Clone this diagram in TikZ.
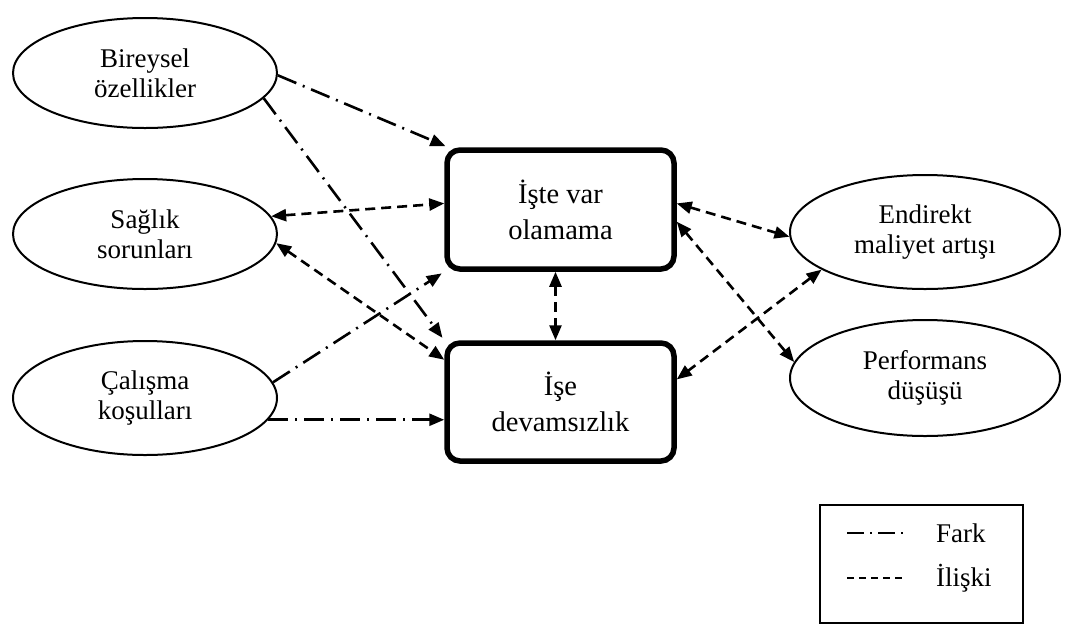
\documentclass[tikz,border=0pt]{standalone}
\usepackage{fontspec}
\setmainfont{Liberation Serif}
\usetikzlibrary{arrows.meta,shapes.geometric}

\begin{document}
\begin{tikzpicture}[x=1pt,y=-1pt,
  oval/.style={ellipse,draw,line width=2pt,minimum width=264pt,minimum height=110pt,
    inner sep=0pt,align=center,font=\fontsize{27}{30}\selectfont},
  core/.style={rectangle,rounded corners=13pt,draw,line width=5.5pt,minimum width=227pt,
    minimum height=119pt,align=center,font=\fontsize{28.5}{36}\selectfont},
  tip/.style={-{Triangle[length=15pt,width=12pt]}},
  both/.style={{Triangle[length=15pt,width=12pt]}-{Triangle[length=15pt,width=12pt]}},
  fark/.style={line width=2.6pt,dash pattern=on 20pt off 7pt on 2pt off 7pt},
  iliski/.style={line width=2.6pt,dash pattern=on 10pt off 6pt},
  legtext/.style={anchor=west,inner sep=0pt,font=\fontsize{27}{30}\selectfont},
]
\useasboundingbox (0,0) rectangle (1069,625);

% causes on the left
\node[oval] (bir) at (145,73) {Bireysel\\özellikler};
\node[oval] (sag) at (145,234) {Sağlık\\sorunları};
\node[oval,minimum height=114pt] (cal) at (145,398) {Çalışma\\koşulları};

% central outcomes
\node[core] (var) at (560.5,209.5) {İşte var\\olamama};
\node[core,minimum height=118pt] (dev) at (560.5,402) {İşe\\devamsızlık};

% consequences on the right
\node[oval,minimum width=270pt,minimum height=114pt] (end) at (925,232) {Endirekt\\maliyet artışı};
\node[oval,minimum width=270pt,minimum height=116pt] (per) at (925,378) {Performans\\düşüşü};

% differences (dash-dot)
\draw[fark,tip,shorten >=3pt] (bir.-1) -- (var.151);
\draw[fark,tip,shorten >=3pt] (bir.-12) -- (dev.north west);
\draw[fark,tip,shorten >=3pt] (cal.7) -- (var.south west);
\draw[fark,tip] (cal.-10) -- (cal.-10 -| dev.west);

% relations (dashed)
\draw[iliski,both] (sag.8) -- (var.177);
\draw[iliski,both] (sag.-4) -- (dev.160);
\draw[iliski,both] ([xshift=-5pt]var.south) -- ([xshift=-5pt]dev.north);
\draw[iliski,both] (var.3) -- (end.182);
\draw[iliski,both] (var.-6) -- (per.173);
\draw[iliski,both] (end.200) -- (dev.11);

% legend
\node[draw,line width=1.8pt,minimum width=203pt,minimum height=118pt,inner sep=0pt] (leg) at (921.5,564) {};
\node[legtext] (lf) at (936,533) {Fark};
\node[legtext] (li) at (936,578) {İlişki};
\coordinate (fa) at (847,533);
\coordinate (fb) at (905,533);
\coordinate (ia) at (847,578);
\coordinate (ib) at (905,578);
\draw[line width=1.5pt,dash pattern=on 17pt off 6pt on 2pt off 6pt] (fa) -- (fb);
\draw[line width=1.5pt,dash pattern=on 7pt off 5pt] (ia) -- (ib);
\end{tikzpicture}
\end{document}
